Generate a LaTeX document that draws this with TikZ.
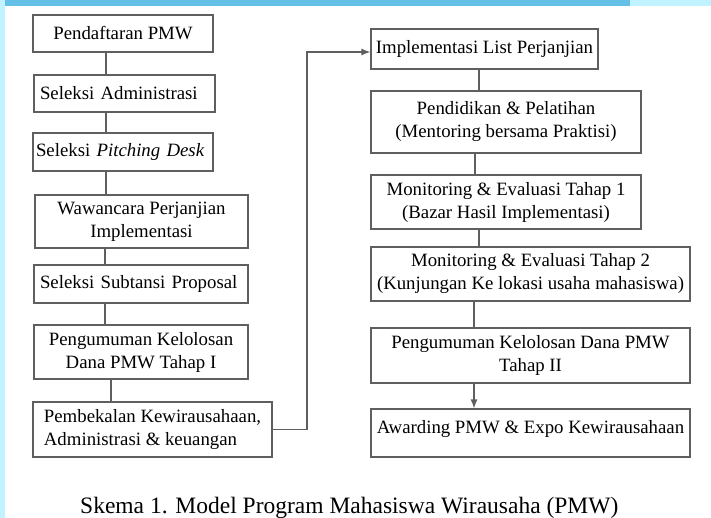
\documentclass[tikz,border=0pt]{standalone}
\usepackage{fontspec}
\setmainfont{Liberation Serif}
\usepackage{tikz}
\usetikzlibrary{arrows.meta,positioning}
\definecolor{garisabu}{RGB}{95,95,95}
\definecolor{langit}{RGB}{100,192,230}
\definecolor{mudabiru}{RGB}{192,242,255}

\tikzset{
  tahap/.style={draw=garisabu, line width=1.2pt, rectangle, inner xsep=6pt, inner ysep=2pt,
    font=\fontsize{18.8}{23}\selectfont, align=center},
  kiri/.style={align=left, text width=#1},
  garis/.style={draw=garisabu, line width=1.2pt},
  >={Latex[length=9pt,width=7pt]}
}

\begin{document}
\begin{tikzpicture}[x=1pt, y=-1pt]
  % latar
  \fill[white] (0,0) rectangle (711,518);
  \useasboundingbox (0,0) rectangle (711,518);
  \fill[langit] (0,0) rectangle (630,6);
  \fill[mudabiru] (630,0) rectangle (711,6);
  \fill[mudabiru] (0,0) rectangle (5,518);

  % kolom kiri
  \node[tahap, minimum width=180, minimum height=37] (daftar) at (123,33.5) {Pendaftaran PMW};
  \node[tahap, minimum width=181, minimum height=37, kiri=169] (admin) at (124.5,93.5) {Seleksi Administrasi};
  \node[tahap, minimum width=180, minimum height=38, inner xsep=3pt, kiri=174] (pitch) at (123,152) {Seleksi \textit{Pitching Desk}};
  \node[tahap, minimum width=213, minimum height=53] (wawan) at (141.5,221.5) {Wawancara Perjanjian\\Implementasi};
  \node[tahap, minimum width=214, minimum height=38, kiri=202] (subst) at (141,284) {Seleksi Subtansi Proposal};
  \node[tahap, minimum width=214, minimum height=54] (umum1) at (141,352) {Pengumuman Kelolosan\\Dana PMW Tahap I};
  \node[tahap, minimum width=239, minimum height=55, align=left] (bekal) at (152.5,429.5) {Pembekalan Kewirausahaan,\\Administrasi \& keuangan};

  % kolom kanan
  \node[tahap, minimum width=227, minimum height=40, inner xsep=2pt] (impl) at (484.5,49) {Implementasi List Perjanjian};
  \node[tahap, minimum width=270, minimum height=62] (didik) at (506,122) {Pendidikan \& Pelatihan\\(Mentoring bersama Praktisi)};
  \node[tahap, minimum width=270, minimum height=54] (monev1) at (506,202) {Monitoring \& Evaluasi Tahap 1\\(Bazar Hasil Implementasi)};
  \node[tahap, minimum width=319, minimum height=54, inner xsep=2pt] (monev2) at (530.5,274) {Monitoring \& Evaluasi Tahap 2\\(Kunjungan Ke lokasi usaha mahasiswa)};
  \node[tahap, minimum width=319, minimum height=55] (umum2) at (530.5,355.5) {Pengumuman Kelolosan Dana PMW\\Tahap II};
  \node[tahap, minimum width=319, minimum height=48, text depth=12pt, inner xsep=2pt] (award) at (530.5,433) {Awarding PMW \& Expo Kewirausahaan};

  % penghubung
  \foreach \a/\b/\x in {daftar/admin/106, admin/pitch/106, pitch/wawan/106, wawan/subst/105,
      subst/umum1/105, umum1/bekal/111, impl/didik/479, didik/monev1/475, monev1/monev2/479,
      monev2/umum2/474} {
    \draw[garis] (\a.south -| \x,0) -- (\b.north -| \x,0);
  }
  \draw[garis, ->] (umum2.south -| 474,0) -- (award.north -| 474,0);
  \coordinate (belok) at (307,52);
  \draw[garis, ->] (bekal.east) -| (belok) -- (impl.west |- belok);

  % judul
  \node[anchor=base west, inner sep=0, font=\fontsize{23.5}{28}\selectfont] (judul) at (80,513)
    {Skema 1. Model Program Mahasiswa Wirausaha (PMW)};
\end{tikzpicture}
\end{document}
